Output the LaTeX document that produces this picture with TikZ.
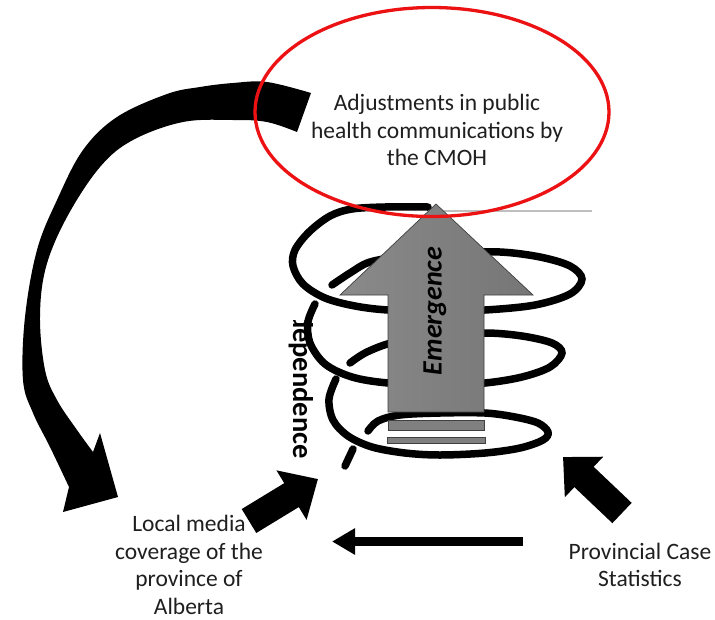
\documentclass[tikz,border=0pt]{standalone}
\usepackage{fontspec}
\setmainfont{Carlito}
\usetikzlibrary{arrows.meta,shapes.geometric}
\definecolor{alertred}{RGB}{236,18,20}
\definecolor{arrowgrey}{RGB}{128,128,128}
\begin{document}
\begin{tikzpicture}[x=1pt,y=-1pt,
  coil/.style={line width=7.5pt, line cap=round, smooth, tension=0.55},
  caption/.style={font=\fontsize{23.5}{27.5}\selectfont, align=center, text=black!88, inner sep=0pt},
  fatarrow/.style={line width=28pt, -{Triangle[width=56pt,length=31pt]}},
  thinarrow/.style={line width=9pt, -{Triangle[width=25pt,length=23pt]}},
  ]
\useasboundingbox (0,0) rectangle (715,619);
\fill[white] (0,0) rectangle (715,619);

% ---- spring (helix) behind the emergence arrow ----
\draw[coil] plot coordinates {(428,207) (385,207) (352,209) (330,216) (309,232) (295,250) (293,266) (303,284) (325,298) (355,306) (388,310) (436,311) (485,310) (535,305) (570,294) (582,279) (570,266) (540,257) (500,252) (450,253) (405,256) (370,262) (350,273) (332,285)};
\draw[coil] plot coordinates {(315,304) (308,322) (310,343) (325,364) (352,377) (388,383) (440,385) (485,383) (522,377) (550,367) (562,353) (552,343) (522,336) (485,333) (440,336) (395,342) (367,352) (350,363)};
\draw[coil] plot coordinates {(336,379) (329,399) (333,420) (348,436) (372,447) (405,453) (440,455) (485,453) (520,448) (543,440) (548,432) (538,423) (515,417) (485,413) (440,413) (400,415) (378,421) (368,431)};
\draw[coil] plot coordinates {(353,449) (345,466)};

% ---- emergence arrow ----
\draw[gray!50, line width=1.4pt] (440,211) -- (592,211);
\draw[draw=black!75, line width=0.7pt, left color=arrowgrey!92!white, right color=arrowgrey!92!black]
  (436,204) -- (533,295) -- (484,295) -- (484,412) -- (388,412) -- (388,295) -- (340,295) -- cycle;
\draw[draw=black!75, line width=0.7pt, fill=arrowgrey] (388,420) rectangle (484,430);
\draw[draw=black!75, line width=0.7pt, fill=arrowgrey] (387,437) rectangle (485,443);
\node[font=\fontsize{28}{30}\selectfont\bfseries\itshape, rotate=90, inner sep=0pt] (emerge) at (435,311) {Emergence};

% ---- partly hidden label beside the spring ----
\begin{scope}
  \clip (270,320) rectangle (335,470);
  \node[font=\fontsize{28.5}{30}\selectfont\bfseries, rotate=-90, anchor=east, inner sep=0pt] (interdep) at (301,459) {Interdependence};
\end{scope}

% ---- large curved feedback arrow ----
\fill[black]
  plot[smooth, tension=0.6] coordinates {(311,93) (267,82) (233,83) (200,87) (167,94) (117,117) (83,150) (57,200) (37,250) (25,317) (23,380) (33,413) (50,447) (69,487)}
  -- (63,512) -- (118,497) -- (100,433)
  -- plot[smooth, tension=0.6] coordinates {(93,452) (77,430) (57,400) (45,370) (40,317) (46,267) (67,217) (100,167) (133,140) (183,122) (233,120) (267,122) (297,132)}
  -- cycle;

% ---- straight arrows into the spring ----
\coordinate (mediaTail) at (249,521);
\coordinate (hubWest)   at (318,479);
\coordinate (statsTail) at (622,513);
\coordinate (hubEast)   at (563,457);
\coordinate (flowStart) at (523,541.5);
\coordinate (flowEnd)   at (332,541.5);
\draw[fatarrow] (mediaTail) -- (hubWest);
\draw[line width=28pt, -{Triangle[width=54pt,length=29pt]}] (statsTail) -- (hubEast);
\draw[thinarrow] (flowStart) -- (flowEnd);

% ---- labels ----
\node[caption] (media) at (189,565) {Local media\\coverage of the\\province of\\Alberta};
\node[caption] (stats) at (640,565) {Provincial Case\\Statistics};
\node[caption] (cmoh) at (437,130) {Adjustments in public\\health communications by\\the CMOH};

% ---- highlight ring ----
\node[ellipse, draw=alertred, line width=3.3pt, minimum width=354pt, minimum height=209pt, inner sep=0pt] (ring) at (432,112) {};
\end{tikzpicture}
\end{document}
